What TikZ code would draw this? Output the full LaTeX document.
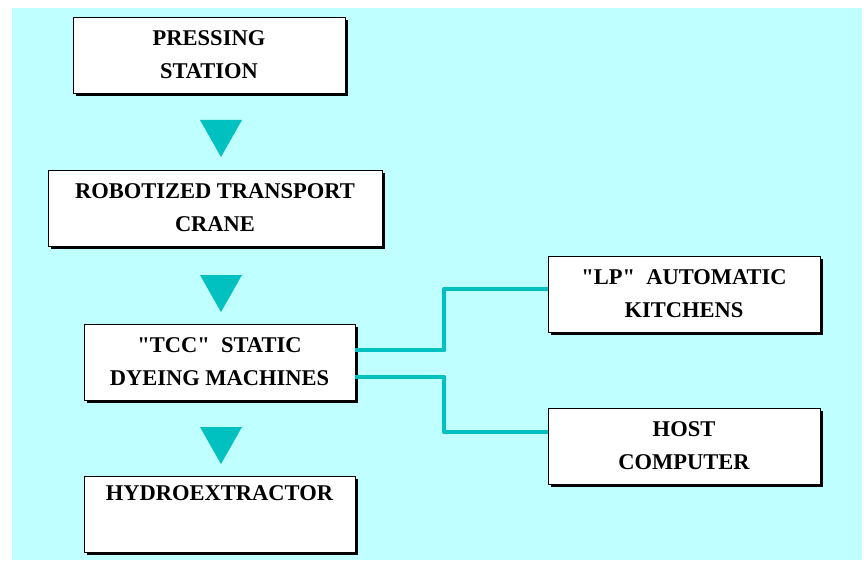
\documentclass[tikz,border=0pt]{standalone}
\usepackage{fontspec}
\setmainfont{Liberation Serif}
\usetikzlibrary{shadows}

\definecolor{panelcyan}{RGB}{192,255,255}
\definecolor{flowteal}{RGB}{0,192,192}

\tikzset{
  stage/.style={draw=black, line width=0.8pt, fill=white, align=center,
    minimum height=76pt, inner sep=0pt,
    font=\fontsize{22.5}{33}\selectfont\bfseries,
    drop shadow={shadow xshift=3pt, shadow yshift=-3pt, fill=black, opacity=1}},
  link/.style={draw=flowteal, line width=4pt, line join=round}
}

\begin{document}
\begin{tikzpicture}[x=1pt, y=-1pt]
  % Canvas and cyan panel
  \useasboundingbox (0,0) rectangle (864,561);
  \fill[panelcyan] (12,8) rectangle (862,560);

  % Main line of stages
  \node[stage, minimum width=272pt] (press) at (209,55) {PRESSING\\STATION};
  \node[stage, minimum width=334pt] (crane) at (215,208) {ROBOTIZED TRANSPORT\\CRANE};
  \node[stage, minimum width=271pt] (tcc) at (219.5,362)
    {\textquotedbl TCC\textquotedbl\ \ STATIC\\DYEING MACHINES};
  \node[stage, minimum width=271pt] (hydro) at (219.5,514) {HYDROEXTRACTOR\\\strut};

  % Side units
  \node[stage, minimum width=272pt] (lp) at (684,294)
    {\textquotedbl LP\textquotedbl\ \ AUTOMATIC\\KITCHENS};
  \node[stage, minimum width=272pt] (host) at (684,446) {HOST\\COMPUTER};

  % Flow triangles between stages
  \foreach \t in {120,275,427} {
    \fill[flowteal] (200,\t) -- (242,\t) -- (221,\t+37) -- cycle;
  }

  % Links to kitchens and host
  \draw[link] ([yshift=12pt]tcc.east) -- ++(89,0) |- ([yshift=5pt]lp.west);
  \draw[link] ([yshift=-15pt]tcc.east) -- ++(89,0) |- ([yshift=14pt]host.west);
\end{tikzpicture}
\end{document}
